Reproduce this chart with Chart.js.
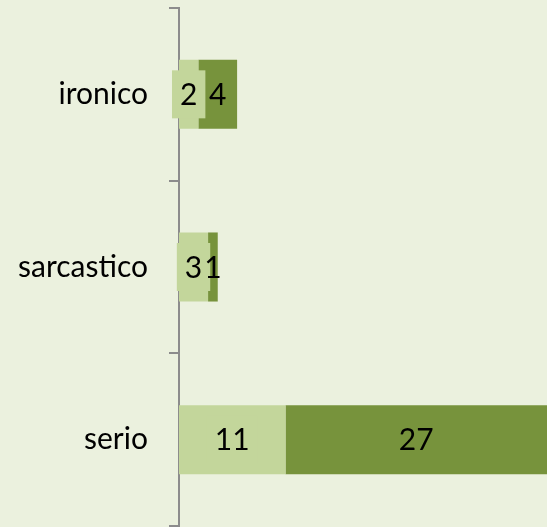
<!DOCTYPE html>
<html>
<head>
<meta charset="utf-8">
<script src="https://cdn.jsdelivr.net/npm/chart.js@4"></script>
<style>
    body { margin: 0; background: #ebf1de; }
    #wrap { width: 547px; height: 527px; }
</style>
</head>
<body>
<div id="wrap"><canvas id="chart" width="547" height="527"></canvas></div>
<script>
// dati del grafico
var categories = ["ironico", "sarcastico", "serio"];
var lightValues = [2, 3, 11];
var darkValues = [4, 1, 27];
var xMax = 38;

var lightColor = "#c3d69b";
var darkColor = "#77933c";
var axisColor = "#8c8c8c";

// etichette dei valori (la prima serie ha un riquadro di sfondo, come in Excel)
var valueLabels = {
    id: "valueLabels",
    afterDatasetsDraw: function (chart) {
        var ctx = chart.ctx;
        ctx.save();
        ctx.font = "30px Lato";
        ctx.textAlign = "center";
        ctx.textBaseline = "middle";
        chart.data.datasets.forEach(function (ds, di) {
            var meta = chart.getDatasetMeta(di);
            meta.data.forEach(function (bar, i) {
                var x = (bar.x + bar.base) / 2;
                var y = bar.y;
                var txt = String(ds.data[i]);
                if (di === 0) {
                    var w = ctx.measureText(txt).width + 16;
                    ctx.fillStyle = lightColor;
                    ctx.fillRect(x - w / 2, y - 24, w, 48);
                }
                ctx.fillStyle = "#000";
                ctx.fillText(txt, x, y + 1);
            });
        });
        ctx.restore();
    }
};

var ctx = document.getElementById("chart").getContext("2d");
var myChart = new Chart(ctx, {
    type: "bar",
    data: {
        labels: categories,
        datasets: [
            { label: "Serie 1", data: lightValues, backgroundColor: lightColor, borderWidth: 0 },
            { label: "Serie 2", data: darkValues, backgroundColor: darkColor, borderWidth: 0 }
        ]
    },
    options: {
        indexAxis: "y",
        responsive: false,
        animation: false,
        layout: { padding: { top: 8, bottom: 1, left: 0, right: 0 } },
        datasets: { bar: { categoryPercentage: 1, barPercentage: 0.4 } },
        plugins: {
            legend: { display: false },
            tooltip: { enabled: false }
        },
        scales: {
            x: { stacked: true, min: 0, max: xMax, display: false },
            y: {
                stacked: true,
                afterFit: function (scale) {
                    scale.width = 179;
                    scale.paddingTop = 0;
                    scale.paddingBottom = 0;
                },
                border: { display: true, color: axisColor, width: 2 },
                grid: { offset: true, drawOnChartArea: false, drawTicks: true, tickLength: 10, color: axisColor, lineWidth: 2 },
                ticks: { color: "#000", padding: 21, font: { family: "Lato", size: 30 } }
            }
        }
    },
    plugins: [valueLabels]
});
</script>
</body>
</html>
